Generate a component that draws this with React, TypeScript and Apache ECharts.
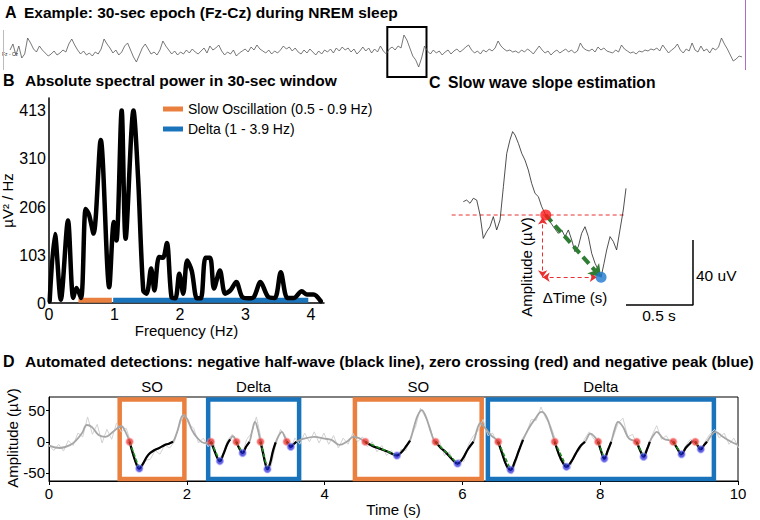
import React, { useEffect, useRef } from "react";
import * as echarts from "echarts";

const FONT = "'Liberation Sans', Arial, Helvetica, sans-serif";
const ORANGE = "#E9803F";
const BLUE = "#1A74BC";

// ---------- Panel A: 30-s EEG epoch ----------
const eegStep = 0.12; // seconds between samples
const eegValues = [
  2, 8, -3, 6, -6, -2, 14, 9, 3, 0,
  6, 2, -1, -4, -2, 1, -3, -1, 2, 0,
  8, 13, 7, 2, -2, 1, -3, -1, -4, 0,
  -2, 3, 13, 8, 4, -1, 2, -3, 0, 6,
  9, 2, -5, -10, -3, 4, 8, 3, -2, 0,
  -3, 2, 11, 6, 2, -2, 1, -3, 0, -2,
  2, -1, 3, 0, -2, 1, 4, -1, 6, 2,
  4, 7, 1, -3, 0, -2, 2, -4, -1, 1,
  3, 0, 5, 2, 7, 3, 1, -1, 2, -2,
  1, -1, 2, 6, 3, 5, 1, 4, 0, -2,
  2, -1, 3, 0, -3, 1, -2, 2, 0, 3,
  -1, 4, 1, 5, 2, 4, 0, 3, -2, 1,
  5, 1, 4, -1, 3, 0, 6, 1, -2, 3,
  5, 2, 6, 4, 17, 12, 4, -4, -8, -15,
  -6, 6, 1, -2, 2, -1, 1, -3, 0, 2,
  -2, 1, 3, 0, 2, 5, 7, 2, -1, 1,
  -2, 2, 0, 3, 1, 4, 11, 6, 3, 1,
  2, 0, 1, -1, 2, 0, 3, 1, -2, 2,
  6, 2, -1, 1, -3, 0, 2, -1, 1, 3,
  0, 2, -1, 1, 9, 4, 2, 1, 3, 0,
  5, 2, 4, 1, 0, -1, 2, 0, 7, 3,
  1, -1, 0, -2, 1, 0, 2, 1, 3, 2,
  4, 1, 7, 3, -1, 2, 4, 8, 2, -1,
  3, 1, 9, 2, 0, 6, 1, 3, -1, 4,
  2, 5, 14, 8, 3, -3, -9, -7, -4, -5,
];
const epochWindow = [15.4, 17.0]; // highlighted window (s)

// ---------- Panel B: spectrum ----------
const spectrumFreq = [
  0.01, 0.09, 0.18, 0.29, 0.37, 0.42, 0.49, 0.56, 0.61, 0.68, 0.79, 0.92, 0.99, 1.03,
  1.11, 1.17, 1.29, 1.36, 1.44, 1.49, 1.56, 1.61, 1.68, 1.74, 1.8, 1.87, 1.93, 1.99,
  2.05, 2.11, 2.18, 2.26, 2.32, 2.39, 2.46, 2.52, 2.61, 2.69, 2.77, 2.86, 2.95, 3.05,
  3.13, 3.23, 3.35, 3.45, 3.54, 3.64, 3.74, 3.86, 3.94, 4.04, 4.15,
];
const spectrumPower = [
  4, 148, 7, 177, 11, 32, 11, 202, 190, 149, 350, 34, 174, 134,
  413, 138, 413, 270, 26, 20, 74, 27, 99, 97, 129, 13, 10, 63,
  20, 91, 69, 10, 10, 97, 97, 31, 70, 20, 27, 45, 13, 10,
  13, 45, 13, 11, 66, 11, 11, 25, 18, 18, 4,
];
const powerTicks = [0, 103, 206, 310, 413];
const freqTicks = [0, 1, 2, 3, 4];
const soName = "Slow Oscillation (0.5 - 0.9 Hz)";
const deltaName = "Delta (1 - 3.9 Hz)";
const soBand = [0.45, 0.96];
const deltaBand = [0.98, 3.96];
const bandLevel = 6;

// ---------- Panel C: single slow wave ----------
const waveTime = [
  0.174, 0.199, 0.224, 0.249, 0.274, 0.299, 0.323, 0.348, 0.373, 0.398, 0.423, 0.448,
  0.473, 0.498, 0.522, 0.542, 0.56, 0.585, 0.61, 0.634, 0.659, 0.684, 0.709, 0.734,
  0.759, 0.789, 0.821, 0.846, 0.883, 0.908, 0.933, 0.958, 0.983, 1.007, 1.032, 1.057,
  1.082, 1.107, 1.132, 1.157, 1.182, 1.202, 1.224, 1.244, 1.269, 1.294, 1.318, 1.343,
  1.368, 1.388,
];
const waveAmp = [
  8.2, 9.2, 7.2, 10.3, 9.2, 0, -14.4, -10.3, -7.2, -1, -9.2, -3.1,
  17.4, 37.9, 46.2, 51.3, 49.2, 44.1, 37.9, 33.8, 27.7, 19.5, 13.3, 11.3,
  5.1, 0, -4.1, -7.2, -11.3, -9.2, -13.3, -9.2, -15.4, -22.6, -19.5, -11.3,
  -7.2, -13.3, -23.6, -29.7, -33.8, -38.3, -29.7, -21.5, -13.3, -16.4, -21.5, -9.2,
  3.1, 16.4,
];
const zeroCross = [0.789, 0];
const negPeak = [1.202, -38.3];
const zeroLineSpan = [0.087, 1.393];
const deltaTimeSpan = [0.766, 1.17];
const scaleOrigin = [1.888, -55.4];
const scaleTime = 0.5;
const scaleAmp = 40;

// ---------- Panel D: automated detections ----------
const filtD = [
  [0, -6], [0.16, -10], [0.31, -5], [0.4, 3], [0.48, 14], [0.55, 27], [0.62, 24], [0.72, 11],
  [0.82, 8], [0.93, 16], [1.05, 25], [1.11, 16], [1.17, 0],
  [1.22, -20], [1.27, -36], [1.31, -43], [1.36, -36], [1.44, -21], [1.52, -14], [1.6, -10],
  [1.68, -5], [1.74, -3], [1.8, 0],
  [1.86, 16], [1.95, 43], [2.01, 36], [2.07, 20], [2.14, 8], [2.26, -2], [2.35, 0],
  [2.4, -14], [2.44, -25], [2.48, -31], [2.53, -20], [2.59, -3], [2.63, 4], [2.67, 9], [2.72, 0],
  [2.76, -10], [2.81, -18], [2.86, -8], [2.91, 0], [2.95, 18], [2.99, 32], [3.03, 20], [3.07, 0],
  [3.11, -20], [3.14, -35], [3.17, -44], [3.21, -34], [3.25, -15], [3.29, -1], [3.33, 9],
  [3.38, 16], [3.42, 8], [3.45, 0],
  [3.48, -4], [3.51, -8], [3.55, -4], [3.59, 0], [3.7, 5], [3.85, 8], [4.0, 5], [4.1, 3],
  [4.22, -5], [4.32, 0], [4.42, 8], [4.5, 6], [4.59, 0],
  [4.7, -7], [4.8, -11], [4.92, -16], [5.05, -22], [5.13, -15], [5.19, -6], [5.24, 2],
  [5.3, 25], [5.35, 42], [5.41, 51], [5.47, 40], [5.53, 20], [5.58, 4], [5.61, 0],
  [5.68, -9], [5.76, -17], [5.85, -28], [5.93, -35], [6.0, -28], [6.08, -12], [6.16, 0],
  [6.22, 22], [6.26, 30], [6.33, 22], [6.42, 10], [6.52, 0],
  [6.58, -20], [6.64, -38], [6.7, -45], [6.76, -32], [6.82, -14], [6.88, 3],
  [6.95, 19], [7.05, 36], [7.15, 48], [7.22, 40], [7.29, 18], [7.34, 0],
  [7.4, -20], [7.46, -34], [7.51, -40], [7.58, -32], [7.66, -16], [7.72, -6], [7.78, 0],
  [7.86, 13], [7.92, 8], [7.97, 0],
  [8.01, -14], [8.06, -27], [8.11, -14], [8.16, 0],
  [8.21, 20], [8.26, 32], [8.33, 24], [8.42, 5], [8.53, 0],
  [8.58, -14], [8.63, -24], [8.68, -12], [8.72, 0],
  [8.77, 10], [8.82, 16], [8.92, 5], [9.06, 0],
  [9.12, -11], [9.18, -20], [9.24, -10], [9.3, -3], [9.34, 1], [9.38, 0],
  [9.42, -7], [9.46, -12], [9.51, -5], [9.55, 0],
  [9.61, 10], [9.67, 16], [9.78, 8], [9.9, 0], [10, -5],
];
const rawStep = 0.07;
const rawAmp = [
  -6, -14, -4, -15, 2, -6, 14, 8, 40, 12, 28, -2, 20, 4, 30, 16, 22, -2, -38, -48,
  -30, -28, -14, -20, -5, -10, 0, 26, 44, 28, 22, -2, 6, -8, 4, -30, -20, 2, 12, -6,
  -22, 4, 14, 40, 4, -32, -40, -6, 20, 10, -12, 6, -4, 14, 0, 16, -2, 14, -4, 10,
  -10, 6, -4, 14, 0, 8, -8, 0, -16, -6, -22, -14, -28, -12, -14, 8, 24, 54, 40, 24,
  -4, 0, -22, -16, -36, -28, -32, -4, 10, 18, 36, 10, 14, -4, -14, -46, -52, -28, 4, 14,
  36, 34, 56, 38, 26, 4, -30, -34, -44, -18, -14, 4, 16, 4, 6, -30, -8, 8, 30, 38,
  8, 12, -6, -18, -14, 10, 26, 4, 10, -4, -4, -24, -6, 4, -2, -16, 0, 12, 20, 6,
  14, -4, 6, -10,
];
const zcTimes = [1.17, 2.35, 2.72, 3.07, 3.45, 4.59, 5.61, 6.52, 7.34, 7.97, 8.53, 9.06, 9.38];
const peakTimes = [1.31, 2.48, 2.81, 3.17, 3.51, 5.05, 5.93, 6.7, 7.51, 8.06, 8.63, 9.18, 9.46];
const peakAmps = [-43, -31, -18, -44, -8, -22, -35, -45, -40, -27, -24, -20, -12];
const endTimes = [1.8, 2.63, 2.91, 3.29, 3.59, 5.24, 6.16, 6.88, 7.78, 8.16, 8.72, 9.34, 9.55];
const soBoxes = [[1.026, 1.965], [4.44, 6.28]];
const deltaBoxes = [[2.31, 3.63], [6.37, 9.65]];
const boxAmp = [-59.7, 68];
const timeTicks = [0, 2, 4, 6, 8, 10];
const ampTicks = [-50, 0, 50];

function txt(text: string, x: number, y: number, size: number, opts: any = {}) {
  return {
    type: "text",
    x,
    y,
    rotation: opts.rotation || 0,
    silent: true,
    style: {
      text,
      fill: opts.fill || "#000",
      fontSize: size,
      fontWeight: opts.bold ? "bold" : "normal",
      fontFamily: FONT,
      align: opts.align || "left",
      verticalAlign: "middle",
    },
  };
}

function buildOption(): any {
  const axisText = (size: number) => ({ color: "#000", fontSize: size, fontFamily: FONT });
  const blackLine = { lineStyle: { color: "#000", width: 1 } };

  const halfWaves = zcTimes.map((zc, i) =>
    filtD.filter((p) => p[0] >= zc - 1e-9 && p[0] <= endTimes[i] + 1e-9)
  );

  const series: any[] = [
    // A
    {
      type: "line",
      xAxisIndex: 0,
      yAxisIndex: 0,
      data: eegValues.map((v, i) => [i * eegStep, v]),
      symbol: "none",
      lineStyle: { color: "#555", width: 0.8 },
      markArea: {
        silent: true,
        itemStyle: { color: "rgba(0,0,0,0)", borderColor: "#000", borderWidth: 2 },
        data: [[{ xAxis: epochWindow[0], yAxis: -25 }, { xAxis: epochWindow[1], yAxis: 25 }]],
      },
    },
    // B bands
    {
      name: soName,
      type: "line",
      xAxisIndex: 1,
      yAxisIndex: 1,
      color: ORANGE,
      data: soBand.map((f) => [f, bandLevel]),
      symbol: "none",
      lineStyle: { color: ORANGE, width: 5 },
      z: 2,
    },
    {
      name: deltaName,
      type: "line",
      xAxisIndex: 1,
      yAxisIndex: 1,
      color: BLUE,
      data: deltaBand.map((f) => [f, bandLevel]),
      symbol: "none",
      lineStyle: { color: BLUE, width: 5 },
      z: 2,
    },
    // B spectrum
    {
      type: "line",
      xAxisIndex: 1,
      yAxisIndex: 1,
      data: spectrumFreq.map((f, i) => [f, spectrumPower[i]]),
      symbol: "none",
      smooth: 0.3,
      lineStyle: { color: "#000", width: 4.5, cap: "round", join: "round" },
      z: 3,
    },
    // C waveform
    {
      type: "line",
      xAxisIndex: 2,
      yAxisIndex: 2,
      data: waveTime.map((t, i) => [t, waveAmp[i]]),
      symbol: "none",
      lineStyle: { color: "#222", width: 0.8 },
      z: 2,
    },
    // C dashed zero line + delta arrows
    {
      type: "line",
      xAxisIndex: 2,
      yAxisIndex: 2,
      data: zeroLineSpan.map((t) => [t, 0]),
      symbol: "none",
      lineStyle: { color: "#E83030", width: 1, type: [4, 3] },
      z: 1,
      markLine: {
        silent: true,
        symbol: ["arrow", "arrow"],
        symbolSize: 7,
        label: { show: false },
        lineStyle: { color: "#E83030", width: 1, type: [4, 3] },
        data: [
          [{ coord: [deltaTimeSpan[0], -1.5] }, { coord: [deltaTimeSpan[0], negPeak[1]] }],
          [{ coord: [deltaTimeSpan[0], negPeak[1]] }, { coord: [deltaTimeSpan[1], negPeak[1]] }],
        ],
      },
    },
    // C slope arrow
    {
      type: "line",
      xAxisIndex: 2,
      yAxisIndex: 2,
      data: [],
      z: 3,
      markLine: {
        silent: true,
        symbol: ["none", "arrow"],
        symbolSize: 12,
        label: { show: false },
        lineStyle: { color: "#2E7D32", width: 4, type: [9, 5] },
        data: [[{ coord: zeroCross }, { coord: negPeak }]],
      },
    },
    // C dots
    {
      type: "scatter",
      xAxisIndex: 2,
      yAxisIndex: 2,
      symbolSize: 11,
      data: [
        { value: zeroCross, itemStyle: { color: "#FF1A1A" } },
        { value: negPeak, itemStyle: { color: "#1E78D0" } },
      ],
      z: 5,
    },
    // C scale bars
    {
      type: "line",
      xAxisIndex: 2,
      yAxisIndex: 2,
      data: [
        [scaleOrigin[0] - scaleTime, scaleOrigin[1]],
        [scaleOrigin[0], scaleOrigin[1]],
        [scaleOrigin[0], scaleOrigin[1] + scaleAmp],
      ],
      symbol: "none",
      lineStyle: { color: "#000", width: 1.5 },
    },
    // D raw
    {
      type: "line",
      xAxisIndex: 3,
      yAxisIndex: 3,
      data: rawAmp.map((v, i) => [i * rawStep, v]),
      symbol: "none",
      lineStyle: { color: "#d2d2d2", width: 1 },
      z: 1,
    },
    // D filtered
    {
      type: "line",
      xAxisIndex: 3,
      yAxisIndex: 3,
      data: filtD,
      symbol: "none",
      smooth: 0.4,
      lineStyle: { color: "#a6a6a6", width: 1.8 },
      z: 2,
    },
    ...halfWaves.map((seg) => ({
      type: "line",
      xAxisIndex: 3,
      yAxisIndex: 3,
      data: seg,
      symbol: "none",
      smooth: 0.4,
      lineStyle: { color: "#000", width: 2.2 },
      z: 3,
    })),
    {
      type: "lines",
      coordinateSystem: "cartesian2d",
      xAxisIndex: 3,
      yAxisIndex: 3,
      data: zcTimes.map((zc, i) => ({ coords: [[zc, 0], [peakTimes[i], peakAmps[i]]] })),
      lineStyle: { color: "#1E8C1E", width: 1.6, type: [4, 2], opacity: 1 },
      z: 4,
    },
    {
      type: "scatter",
      xAxisIndex: 3,
      yAxisIndex: 3,
      symbolSize: 7,
      data: zcTimes.map((t) => [t, 0]),
      itemStyle: { color: "rgba(235,25,25,0.85)", borderColor: "rgba(255,140,140,0.6)", borderWidth: 1.5 },
      z: 5,
    },
    {
      type: "scatter",
      xAxisIndex: 3,
      yAxisIndex: 3,
      symbolSize: 7,
      data: peakTimes.map((t, i) => [t, peakAmps[i]]),
      itemStyle: { color: "rgba(20,20,210,0.85)", borderColor: "rgba(140,140,255,0.6)", borderWidth: 1.5 },
      z: 5,
    },
    {
      type: "line",
      xAxisIndex: 3,
      yAxisIndex: 3,
      data: [],
      z: 6,
      markArea: {
        silent: true,
        label: {
          show: true,
          position: "top",
          distance: 3,
          color: "#000",
          fontSize: 15,
          fontFamily: FONT,
        },
        data: [
          ...soBoxes.map((b) => [
            {
              name: "SO",
              xAxis: b[0],
              yAxis: boxAmp[0],
              itemStyle: { color: "rgba(0,0,0,0)", borderColor: ORANGE, borderWidth: 4.5 },
            },
            { xAxis: b[1], yAxis: boxAmp[1] },
          ]),
          ...deltaBoxes.map((b) => [
            {
              name: "Delta",
              xAxis: b[0],
              yAxis: boxAmp[0],
              itemStyle: { color: "rgba(0,0,0,0)", borderColor: BLUE, borderWidth: 4.5 },
            },
            { xAxis: b[1], yAxis: boxAmp[1] },
          ]),
        ],
      },
    },
  ];

  const gridBase = { outerBoundsMode: "none", containLabel: false };

  return {
    animation: false,
    backgroundColor: "#fff",
    textStyle: { fontFamily: FONT },
    legend: {
      left: 158,
      top: 97,
      orient: "vertical",
      itemWidth: 20,
      itemHeight: 5,
      itemGap: 6,
      selectedMode: false,
      textStyle: { color: "#000", fontSize: 14, fontFamily: FONT },
      data: [
        { name: soName, icon: "rect" },
        { name: deltaName, icon: "rect" },
      ],
    },
    grid: [
      { ...gridBase, left: 10, top: 26, width: 735, height: 52 },
      { ...gridBase, left: 49, top: 98, width: 275, height: 205 },
      { ...gridBase, left: 440, top: 117.5, width: 268, height: 195 },
      {
        ...gridBase,
        left: 49,
        top: 397,
        width: 689,
        height: 84,
        show: true,
        borderColor: "#000",
        borderWidth: 1,
        backgroundColor: "rgba(0,0,0,0)",
      },
    ],
    xAxis: [
      { gridIndex: 0, type: "value", min: 0, max: 30, show: false },
      {
        gridIndex: 1,
        type: "value",
        min: 0,
        max: 4.2,
        axisLine: { onZero: false, lineStyle: { color: "#000", width: 1.5 } },
        axisTick: { show: false },
        axisLabel: { ...axisText(16), margin: 3, customValues: freqTicks },
        splitLine: { show: false },
        name: "Frequency (Hz)",
        nameLocation: "middle",
        nameGap: 15,
        nameTextStyle: axisText(15),
      },
      { gridIndex: 2, type: "value", min: 0, max: 2, show: false },
      {
        gridIndex: 3,
        type: "value",
        min: 0,
        max: 10,
        interval: 2,
        axisLine: { onZero: false, ...blackLine },
        axisTick: { length: 4, lineStyle: { color: "#000" }, customValues: timeTicks },
        axisLabel: { ...axisText(15), margin: 5, customValues: timeTicks },
        splitLine: { show: false },
        name: "Time (s)",
        nameLocation: "middle",
        nameGap: 19,
        nameTextStyle: axisText(15),
      },
    ],
    yAxis: [
      { gridIndex: 0, type: "value", min: -26, max: 26, show: false },
      {
        gridIndex: 1,
        type: "value",
        min: 0,
        max: 440,
        axisLine: { show: true, onZero: false, lineStyle: { color: "#000", width: 1.5 } },
        axisTick: { show: false },
        axisLabel: { ...axisText(16), margin: 3, customValues: powerTicks },
        splitLine: { show: false },
        name: "µV² / Hz",
        nameLocation: "middle",
        nameGap: 33,
        nameTextStyle: axisText(15),
      },
      { gridIndex: 2, type: "value", min: -60, max: 60, show: false },
      {
        gridIndex: 3,
        type: "value",
        min: -63,
        max: 72,
        axisLine: { show: true, onZero: false, ...blackLine },
        axisTick: { show: true, length: 3, lineStyle: { color: "#000" }, customValues: ampTicks },
        axisLabel: { ...axisText(15), margin: 4, customValues: ampTicks },
        splitLine: { show: false },
      },
    ],
    graphic: [
      txt("A", 5, 12, 16, { bold: true }),
      txt("Example: 30-sec epoch (Fz-Cz) during NREM sleep", 24, 12, 15.5, { bold: true }),
      txt("B", 3, 80, 16, { bold: true }),
      txt("Absolute spectral power in 30-sec window", 25, 80, 15.5, { bold: true }),
      txt("C", 429, 82, 16, { bold: true }),
      txt("Slow wave slope estimation", 448, 82, 15.7, { bold: true }),
      txt("D", 3, 361, 16, { bold: true }),
      txt(
        "Automated detections: negative half-wave (black line), zero crossing (red) and negative peak (blue)",
        25,
        361,
        15.5,
        { bold: true }
      ),
      txt("Fz - Cz", 2, 54, 5, { fill: "#333" }),
      txt("Amplitude (µV)", 12, 438, 15, { rotation: Math.PI / 2, align: "center" }),
      txt("Amplitude (µV)", 526, 267, 15, { rotation: Math.PI / 2, align: "center" }),
      txt("ΔTime (s)", 575, 297, 15, { align: "center" }),
      txt("40 uV", 696, 275, 15.5),
      txt("0.5 s", 659, 315, 15.5, { align: "center" }),
      {
        type: "line",
        silent: true,
        shape: { x1: 745.5, y1: 0, x2: 745.5, y2: 70 },
        style: { stroke: "#B36BC7", lineWidth: 1 },
      },
      {
        type: "line",
        silent: true,
        shape: { x1: 3.5, y1: 30, x2: 3.5, y2: 70 },
        style: { stroke: "#bbb", lineWidth: 1 },
      },
    ],
    series,
  };
}

export default function App() {
  const ref = useRef<HTMLDivElement>(null);
  useEffect(() => {
    const chart = echarts.init(ref.current!, null, { renderer: "svg" });
    chart.setOption(buildOption());
    return () => chart.dispose();
  }, []);
  return (
    <div
      ref={ref}
      style={{ position: "fixed", left: 0, top: 0, width: 760, height: 520, background: "#fff" }}
    />
  );
}
